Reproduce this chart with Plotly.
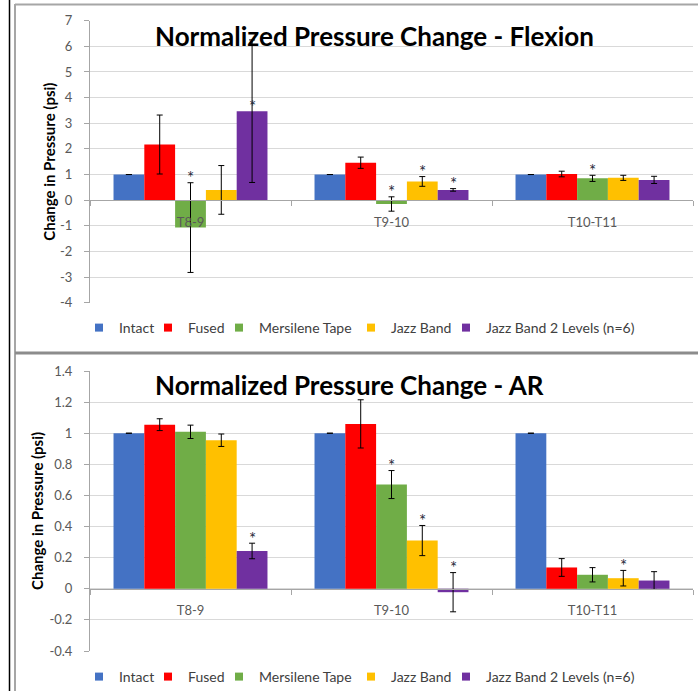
import plotly.graph_objects as go

# ---------------- data ----------------
categories = ["T8-9", "T9-10", "T10-T11"]
series_names = ["Intact", "Fused", "Mersilene Tape", "Jazz Band", "Jazz Band 2 Levels (n=6)"]
colors = ["#4472C4", "#FF0000", "#70AD47", "#FFC000", "#7030A0"]

# Flexion
flex_intact = [1.0, 1.0, 1.0]
flex_fused = [2.17, 1.46, 1.02]
flex_mersilene = [-1.07, -0.15, 0.85]
flex_jazz = [0.40, 0.73, 0.87]
flex_jazz2 = [3.47, 0.40, 0.79]
flex_intact_err = [0.0, 0.0, 0.0]
flex_fused_err = [1.15, 0.22, 0.11]
flex_mersilene_err = [1.75, 0.28, 0.12]
flex_jazz_err = [0.95, 0.19, 0.10]
flex_jazz2_err = [2.78, 0.05, 0.14]
# significance marks: 0 = none, 1 = star above error bar, 2 = star above bar end
flex_intact_sig = [0, 0, 0]
flex_fused_sig = [0, 0, 0]
flex_mersilene_sig = [1, 1, 1]
flex_jazz_sig = [0, 1, 0]
flex_jazz2_sig = [2, 1, 0]

# Axial rotation (AR)
ar_intact = [1.0, 1.0, 1.0]
ar_fused = [1.055, 1.06, 0.137]
ar_mersilene = [1.009, 0.67, 0.09]
ar_jazz = [0.955, 0.31, 0.068]
ar_jazz2 = [0.243, -0.022, 0.053]
ar_intact_err = [0.0, 0.0, 0.0]
ar_fused_err = [0.038, 0.155, 0.057]
ar_mersilene_err = [0.043, 0.09, 0.046]
ar_jazz_err = [0.04, 0.097, 0.05]
ar_jazz2_err = [0.05, 0.126, 0.057]
ar_intact_sig = [0, 0, 0]
ar_fused_sig = [0, 0, 0]
ar_mersilene_sig = [0, 1, 0]
ar_jazz_sig = [0, 1, 1]
ar_jazz2_sig = [1, 1, 0]

flex_ticks = [-4, -3, -2, -1, 0, 1, 2, 3, 4, 5, 6, 7]
flex_ticktext = ["-4", "-3", "-2", "-1", "0", "1", "2", "3", "4", "5", "6", "7"]
ar_ticks = [-0.4, -0.2, 0, 0.2, 0.4, 0.6, 0.8, 1, 1.2, 1.4]
ar_ticktext = ["-0.4", "-0.2", "0", "0.2", "0.4", "0.6", "0.8", "1", "1.2", "1.4"]

flex_title = "Normalized Pressure Change - Flexion"
ar_title = "Normalized Pressure Change - AR"
y_title = "Change in Pressure (psi)"

# ---------------- layout constants ----------------
W, H = 698, 691
FONT = "Lato"
GRAY_TXT = "#595959"
BARGAP = 0.234
LEGEND_TEXT_X = [113, 182, 253, 385, 480]   # pixel x where each legend label starts

def px_x(p):
    return p / W

def px_y(p):
    return 1 - p / H

x_dom = [px_x(90), px_x(693)]
flex_range = [-4, 7]
ar_range = [-0.4, 1.4]
flex_dom = [px_y(302.7), px_y(20.7)]
ar_dom = [px_y(651), px_y(371)]

def zero_pos(rng, dom):
    return dom[0] + (0 - rng[0]) / (rng[1] - rng[0]) * (dom[1] - dom[0])

fig = go.Figure()

flex_vals = [flex_intact, flex_fused, flex_mersilene, flex_jazz, flex_jazz2]
flex_errs = [flex_intact_err, flex_fused_err, flex_mersilene_err, flex_jazz_err, flex_jazz2_err]
flex_sigs = [flex_intact_sig, flex_fused_sig, flex_mersilene_sig, flex_jazz_sig, flex_jazz2_sig]
ar_vals = [ar_intact, ar_fused, ar_mersilene, ar_jazz, ar_jazz2]
ar_errs = [ar_intact_err, ar_fused_err, ar_mersilene_err, ar_jazz_err, ar_jazz2_err]
ar_sigs = [ar_intact_sig, ar_fused_sig, ar_mersilene_sig, ar_jazz_sig, ar_jazz2_sig]

annotations = []
legends = {}
bar_w = (1 - BARGAP) / len(series_names)

def legend_id(k):
    return "legend" if k == 0 else "legend%d" % (k + 1)

def add_panel(vals, errs, sigs, xa, ya, leg_offset, leg_y):
    for j, name in enumerate(series_names):
        lid = legend_id(leg_offset + j)
        fig.add_trace(go.Bar(
            x=categories, y=vals[j], name=name,
            marker=dict(color=colors[j], line=dict(width=0)),
            error_y=dict(type="data", array=errs[j], visible=True,
                         color="#000000", thickness=1, width=3),
            xaxis=xa, yaxis=ya, showlegend=False,
        ))
        # legend proxy with small square marker
        fig.add_trace(go.Scatter(
            x=[None], y=[None], mode="markers", name=name,
            marker=dict(symbol="square", size=8, color=colors[j]),
            xaxis=xa, yaxis=ya, legend=lid, showlegend=True,
        ))
        legends[lid] = dict(
            orientation="h", xanchor="left", yanchor="middle",
            x=px_x(LEGEND_TEXT_X[j] + 6 - 40), y=px_y(leg_y),
            font=dict(family=FONT, size=14, color="#404040"),
            bgcolor="rgba(0,0,0,0)", borderwidth=0,
            itemclick=False, itemdoubleclick=False,
        )
        for i, cat in enumerate(categories):
            s = sigs[j][i]
            if s == 0:
                continue
            v = vals[j][i]
            anchor = v + errs[j][i] if s == 1 else v
            annotations.append(dict(
                x=i + (j - 2) * bar_w, y=anchor,
                xref=xa, yref=ya, text="*", showarrow=False,
                xanchor="center", yanchor="middle", yshift=5,
                font=dict(family=FONT, size=17, color="#1f2a3a"),
            ))

add_panel(flex_vals, flex_errs, flex_sigs, "x", "y", 0, 328)
add_panel(ar_vals, ar_errs, ar_sigs, "x2", "y2", 5, 677)

common_x = dict(
    domain=x_dom, type="category", range=[-0.5, 2.5],
    showline=True, linecolor="#a6a6a6", linewidth=1,
    ticks="outside", tickson="boundaries", ticklen=5, tickcolor="#a6a6a6",
    showgrid=False, tickfont=dict(family=FONT, size=13, color=GRAY_TXT),
    ticklabelstandoff=10, anchor="free", fixedrange=True, automargin=False,
)
common_y = dict(
    showline=True, linecolor="#a6a6a6", linewidth=1,
    ticks="outside", ticklen=5, tickcolor="#a6a6a6",
    showgrid=True, gridcolor="#d9d9d9", gridwidth=1, zeroline=False,
    tickfont=dict(family=FONT, size=13, color=GRAY_TXT),
    ticklabelstandoff=9, fixedrange=True, automargin=False,
)

fig.update_layout(
    xaxis=dict(common_x, position=zero_pos(flex_range, flex_dom)),
    xaxis2=dict(common_x, position=zero_pos(ar_range, ar_dom)),
    yaxis=dict(common_y, domain=flex_dom, range=flex_range, tickvals=flex_ticks,
               ticktext=flex_ticktext, anchor="x"),
    yaxis2=dict(common_y, domain=ar_dom, range=ar_range, tickvals=ar_ticks,
                ticktext=ar_ticktext, anchor="x2"),
)

annotations += [
    dict(x=px_x(153), y=px_y(36), xref="paper", yref="paper", text="<b>%s</b>" % flex_title,
         showarrow=False, xanchor="left", yanchor="middle",
         font=dict(family=FONT, size=26, color="#000000")),
    dict(x=px_x(153), y=px_y(385), xref="paper", yref="paper", text="<b>%s</b>" % ar_title,
         showarrow=False, xanchor="left", yanchor="middle",
         font=dict(family=FONT, size=26, color="#000000")),
    dict(x=px_x(49), y=(flex_dom[0] + flex_dom[1]) / 2, xref="paper", yref="paper",
         text="<b>%s</b>" % y_title, textangle=-90, showarrow=False,
         xanchor="center", yanchor="middle",
         font=dict(family=FONT, size=15, color="#000000")),
    dict(x=px_x(37), y=(ar_dom[0] + ar_dom[1]) / 2, xref="paper", yref="paper",
         text="<b>%s</b>" % y_title, textangle=-90, showarrow=False,
         xanchor="center", yanchor="middle",
         font=dict(family=FONT, size=15, color="#000000")),
]

shapes = [
    dict(type="line", xref="paper", yref="paper", x0=px_x(9.5), x1=px_x(9.5), y0=0, y1=1,
         line=dict(color="#000000", width=1.5)),
    dict(type="line", xref="paper", yref="paper", x0=px_x(15), x1=px_x(15), y0=0, y1=px_y(4),
         line=dict(color="#a6a6a6", width=2)),
    dict(type="line", xref="paper", yref="paper", x0=px_x(15), x1=1, y0=px_y(4.5), y1=px_y(4.5),
         line=dict(color="#a6a6a6", width=2)),
    dict(type="line", xref="paper", yref="paper", x0=px_x(15), x1=1, y0=px_y(353), y1=px_y(353),
         line=dict(color="#8c8c8c", width=3)),
]

fig.update_layout(
    width=W, height=H,
    margin=dict(l=0, r=0, t=0, b=0, pad=0, autoexpand=False),
    paper_bgcolor="#ffffff", plot_bgcolor="#ffffff",
    barmode="group", bargap=BARGAP, bargroupgap=0,
    annotations=annotations, shapes=shapes,
    font=dict(family=FONT),
    hovermode=False,
    **legends,
)

fig.write_html(
    "out.html",
    config={"displayModeBar": False},
    post_script=(
        "document.documentElement.style.margin='0';"
        "document.body.style.margin='0';document.body.style.padding='0';"
        "document.body.style.overflow='hidden';"
        "var gd=document.getElementById('{plot_id}');"
        "gd.style.position='absolute';gd.style.left='0px';gd.style.top='0px';"
    ),
)
